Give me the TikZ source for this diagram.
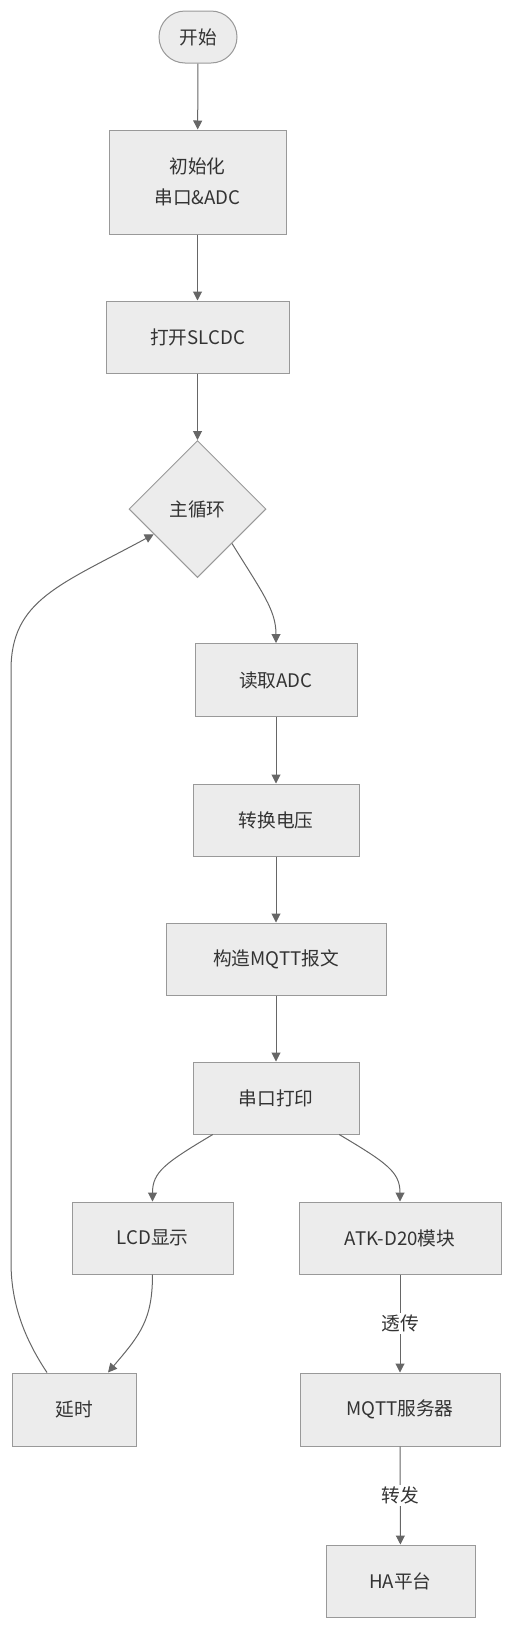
\documentclass[tikz,border=0pt]{standalone}
\usepackage{fontspec}
\setmainfont{Noto Sans CJK SC}
\usetikzlibrary{arrows.meta,shapes.geometric}
\definecolor{boxfill}{HTML}{ECECEC}
\definecolor{boxline}{HTML}{999999}
\definecolor{edgecol}{HTML}{666666}
\definecolor{txt}{HTML}{333333}
\begin{document}
\begin{tikzpicture}[x=1pt,y=-1pt,
  every node/.style={text=txt,font=\fontsize{18.7}{31}\selectfont},
  box/.style={draw=boxline,fill=boxfill,line width=1pt,inner sep=0pt,anchor=center},
  startbox/.style={box,rounded corners=26pt},
  decbox/.style={draw=boxline,fill=boxfill,line width=1pt,diamond,inner sep=0pt,minimum width=137pt,minimum height=137pt},
  flow/.style={draw=edgecol,line width=1pt,-{Triangle[length=9pt,width=9pt]}},
  elabel/.style={fill=white,inner sep=2pt}]
\useasboundingbox (0,0) rectangle (512,1628);
\node[startbox,minimum width=78pt,minimum height=52pt] (start) at (198,37) {开始};
\node[box,minimum width=177pt,minimum height=104pt,align=center] (init) at (197.5,182) {初始化\\串口\&ADC};
\node[box,minimum width=183pt,minimum height=72pt] (slcdc) at (197.5,337) {打开SLCDC};
\node[decbox] (loop) at (197.5,509) {主循环};
\node[box,minimum width=162pt,minimum height=73pt] (readadc) at (276,680) {读取ADC};
\node[box,minimum width=166pt,minimum height=72pt] (conv) at (276,820) {转换电压};
\node[box,minimum width=220pt,minimum height=72pt] (mqtt) at (276,959) {构造MQTT报文};
\node[box,minimum width=166pt,minimum height=72pt] (uart) at (276,1098) {串口打印};
\node[box,minimum width=161pt,minimum height=72pt] (lcd) at (152.5,1238) {LCD显示};
\node[box,minimum width=202pt,minimum height=72pt] (atk) at (400,1238) {ATK-D20模块};
\node[box,minimum width=124pt,minimum height=73pt] (delay) at (74,1409.5) {延时};
\node[box,minimum width=200pt,minimum height=73pt] (server) at (400,1409.5) {MQTT服务器};
\node[box,minimum width=149pt,minimum height=72pt] (ha) at (400.5,1581) {HA平台};

\draw[flow] (start) -- (init);
\draw[flow] (init) -- (slcdc);
\draw[flow] (slcdc) -- (loop.north);
\draw[flow] (loop.-45) .. controls (262,592) and (276,610) .. (readadc.north);
\draw[flow] (readadc) -- (conv);
\draw[flow] (conv) -- (mqtt);
\draw[flow] (mqtt) -- (uart);
\draw[flow] (uart.-150) .. controls (165,1163) and (152.5,1172) .. (lcd.north);
\draw[flow] (uart.-30) .. controls (387,1163) and (400,1172) .. (atk.north);
\coordinate (lcdin) at ([xshift=34pt]delay.north);
\draw[flow] (lcd.south) .. controls (152.5,1320) and (140,1335) .. (lcdin);
\coordinate (dout) at ([xshift=-27pt]delay.north);
\coordinate (lb) at (11,1262);
\coordinate (lt) at (11,670);
\draw[flow] (dout) .. controls (22,1335) and (11,1300) .. (lb) -- (lt) .. controls (11,600) and (60,585) .. (loop.-150);
\draw[flow] (atk) -- node[elabel] (l1) {透传} (server);
\draw[flow] (server) -- node[elabel] (l2) {转发} (ha);
\end{tikzpicture}
\end{document}
